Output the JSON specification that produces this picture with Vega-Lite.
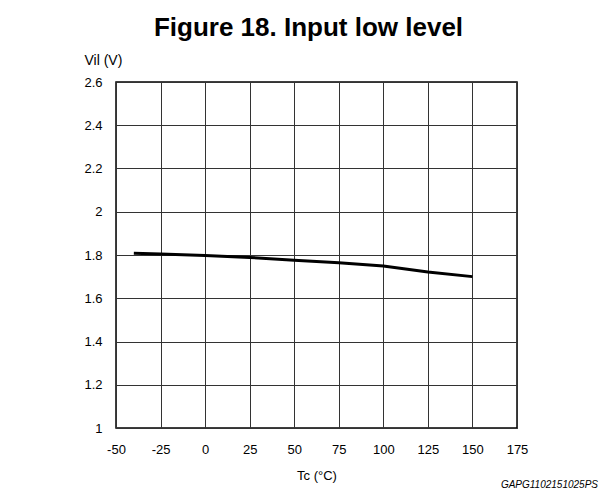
{
  "$schema": "https://vega.github.io/schema/vega-lite/v6.json",
  "autosize": "none",
  "padding": {"left": 116, "top": 82, "right": 99, "bottom": 64},
  "width": 401,
  "height": 346,
  "background": "white",
  "title": {
    "text": "Figure 18. Input low level",
    "font": "Liberation Sans",
    "fontSize": 26,
    "fontWeight": "bold",
    "color": "black",
    "anchor": "middle",
    "dx": -8,
    "offset": 12
  },
  "config": {
    "view": {"stroke": "black", "strokeWidth": 1.5},
    "font": "Liberation Sans"
  },
  "data": {
    "values": [
      {"tc": -40, "vil": 1.808},
      {"tc": -25, "vil": 1.805},
      {"tc": 0, "vil": 1.798},
      {"tc": 25, "vil": 1.789},
      {"tc": 50, "vil": 1.776},
      {"tc": 75, "vil": 1.764},
      {"tc": 100, "vil": 1.749},
      {"tc": 125, "vil": 1.721},
      {"tc": 150, "vil": 1.700}
    ]
  },
  "layer": [
    {
      "mark": {"type": "line", "color": "black", "strokeWidth": 3},
      "encoding": {
        "x": {
          "field": "tc",
          "type": "quantitative",
          "scale": {"domain": [-50, 175], "nice": false, "zero": false},
          "axis": {
            "values": [-50, -25, 0, 25, 50, 75, 100, 125, 150, 175],
            "labelExpr": "replace(datum.label, '\u2212', '-')",
            "title": "Tc  (°C)",
            "titleFont": "Liberation Sans",
            "titleFontSize": 13,
            "titleFontWeight": "normal",
            "titleColor": "black",
            "titleBaseline": "middle",
            "titleY": 47,
            "labelFont": "Liberation Sans",
            "labelFontSize": 13,
            "labelColor": "black",
            "labelPadding": 15,
            "labelDx": 3,
            "labelFlush": false,
            "ticks": false,
            "domain": false,
            "grid": true,
            "gridColor": "#333333",
            "gridOpacity": 1,
            "gridWidth": 1
          }
        },
        "y": {
          "field": "vil",
          "type": "quantitative",
          "scale": {"domain": [1, 2.6], "nice": false, "zero": false},
          "axis": {
            "values": [1, 1.2, 1.4, 1.6, 1.8, 2, 2.2, 2.4, 2.6],
            "format": "~g",
            "title": "Vil (V)",
            "titleAngle": 0,
            "titleAlign": "left",
            "titleBaseline": "alphabetic",
            "titleX": -32,
            "titleY": -18,
            "titleFont": "Liberation Sans",
            "titleFontSize": 14,
            "titleFontWeight": "normal",
            "titleColor": "black",
            "labelFont": "Liberation Sans",
            "labelFontSize": 13,
            "labelColor": "black",
            "labelPadding": 14,
            "labelFlush": false,
            "ticks": false,
            "domain": false,
            "grid": true,
            "gridColor": "#333333",
            "gridOpacity": 1,
            "gridWidth": 1
          }
        }
      }
    },
    {
      "data": {"values": [{"tc": 175, "vil": 1, "code": "GAPG1102151025PS"}]},
      "mark": {
        "type": "text",
        "align": "right",
        "baseline": "middle",
        "font": "Liberation Sans",
        "fontSize": 10,
        "fontStyle": "italic",
        "color": "black",
        "dx": 81,
        "dy": 57
      },
      "encoding": {
        "x": {"field": "tc", "type": "quantitative"},
        "y": {"field": "vil", "type": "quantitative"},
        "text": {"field": "code"}
      }
    }
  ]
}
